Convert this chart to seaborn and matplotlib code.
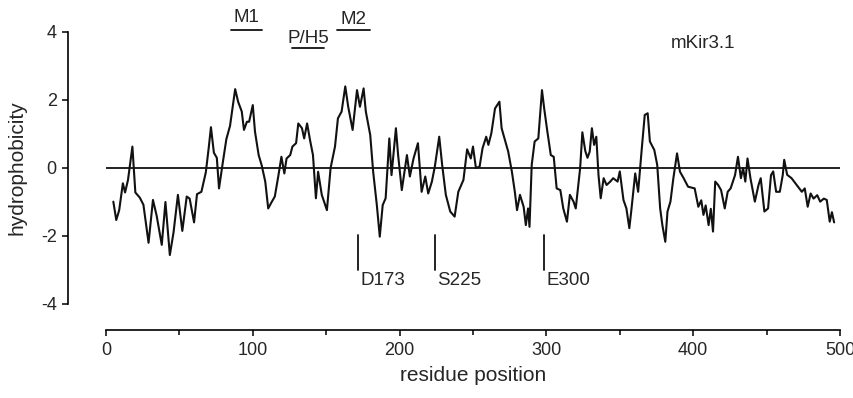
import matplotlib
matplotlib.use("Agg")
import matplotlib.pyplot as plt
import seaborn as sns

# hydrophobicity trace (residue, value)
residue = [5, 7, 9, 11.5, 13, 15, 18, 20, 23, 25.5, 29, 32, 34.5, 38, 40.5, 43.5, 46, 49, 52, 55,
           57, 60, 62, 65, 68, 70, 71.5, 73.5, 75.5, 77, 79.5, 82, 84.5, 88, 90, 92.5, 94, 96, 97.5, 100,
           101.5, 104, 106, 108.5, 110.5, 113, 115, 117.5, 119.5, 121.5, 123, 125.5, 127, 129.5, 131, 133.5, 135, 137, 139, 141,
           143, 144.5, 147, 150.5, 153, 156, 158, 160.5, 163, 165, 168, 171, 173, 175.5, 177, 180, 182, 184.5, 186.5, 188.5,
           190.5, 193, 194.5, 197.5, 199, 201.5, 205, 207, 209.5, 212.5, 215, 217.5, 219.5, 222, 224, 227, 229, 231.5, 234.5, 237.5,
           240, 243.5, 246, 248.5, 250, 252, 254.5, 256.5, 259, 260.5, 262.5, 265, 268, 269.5, 272, 274, 276.5, 278.5, 280, 282,
           284.5, 286, 287.5, 288.5, 290, 292, 294.5, 297, 298.5, 300.5, 303, 305, 307, 309.5, 311.5, 314, 316, 318.5, 320, 323,
           324.5, 326.5, 328, 329.5, 331, 332.5, 334, 335.5, 337, 339, 341, 343.5, 345.5, 348.5, 350, 352.5, 354.5, 356.5, 358, 360.5,
           362.5, 365, 367, 369, 370.5, 373.5, 375.5, 377.5, 379, 381, 382.5, 384.5, 386.5, 389, 391, 393.5, 396.5, 401, 403.5, 405.5,
           407, 408.5, 410.5, 412, 413.5, 415, 417, 419, 421.5, 423.5, 425.5, 428.5, 430.5, 432.5, 434, 435.5, 437, 439, 442, 444.5,
           446, 448.5, 451, 453, 454.5, 456.5, 459, 461, 462, 464, 467, 470.5, 474, 476, 478, 480, 482, 484.5, 486.5, 489,
           491, 493, 494.5, 496]
hydro = [-0.99, -1.53, -1.24, -0.45, -0.72, -0.35, 0.63, -0.72, -0.87, -1.08, -2.2, -0.94, -1.4, -2.26, -1.0, -2.56, -1.9, -0.79, -1.85, -0.84,
         -0.9, -1.6, -0.77, -0.7, -0.13, 0.6, 1.2, 0.45, 0.3, -0.6, 0.14, 0.85, 1.24, 2.32, 1.95, 1.66, 1.12, 1.36, 1.36, 1.85,
         1.07, 0.38, 0.09, -0.4, -1.19, -0.99, -0.84, -0.21, 0.33, -0.16, 0.28, 0.38, 0.63, 0.73, 1.31, 1.17, 0.87, 1.31, 0.82, 0.38,
         -0.89, -0.11, -0.79, -1.24, 0.0, 0.63, 1.46, 1.66, 2.4, 1.8, 1.12, 2.29, 1.8, 2.34, 1.66, 0.97, -0.11, -1.09, -2.02, -1.09,
         -0.89, 0.87, -0.21, 1.17, 0.38, -0.65, 0.38, -0.25, 0.28, 0.73, -0.7, -0.25, -0.75, -0.4, 0.04, 0.92, 0.09, -0.79, -1.28, -1.43,
         -0.7, -0.35, 0.55, 0.28, 0.63, 0.0, 0.04, 0.58, 0.92, 0.68, 1.02, 1.75, 1.95, 1.17, 0.78, 0.48, -0.11, -0.7, -1.24, -0.79,
         -1.14, -1.68, -1.19, -1.73, 0.09, 0.78, 0.87, 2.29, 1.75, 1.12, 0.38, 0.33, -0.6, -0.65, -1.19, -1.58, -0.79, -0.99, -1.19, 0.0,
         1.05, 0.5, 0.3, 0.48, 1.17, 0.68, 0.92, -0.21, -0.89, -0.3, -0.5, -0.4, -0.3, -0.4, -0.1, -0.94, -1.19, -1.77, -1.19, -0.16,
         -0.7, 0.58, 1.56, 1.61, 0.78, 0.53, 0.09, -1.19, -1.68, -2.17, -1.28, -0.99, -0.3, 0.43, -0.11, -0.3, -0.55, -0.6, -1.14, -0.95,
         -1.38, -1.1, -1.68, -1.2, -1.87, -0.4, -0.5, -0.65, -1.19, -0.7, -0.6, -0.21, 0.33, -0.3, 0.0, -0.4, 0.28, -0.3, -0.99, -0.5,
         -0.3, -1.28, -1.19, -0.21, -0.1, -0.7, -0.7, -0.21, 0.24, -0.2, -0.3, -0.5, -0.7, -0.6, -1.14, -0.75, -0.9, -0.8, -0.99, -0.9,
         -0.94, -1.58, -1.3, -1.6]

# segment labels above the trace
seg_names = ["M1", "P/H5", "M2"]
seg_start = [85, 127, 157.5]
seg_end = [106, 148.5, 180]
seg_bar_y = [4.06, 3.54, 4.06]
seg_text_y = [4.42, 3.82, 4.38]

# marked residues below the trace
site_names = ["D173", "S225", "E300"]
site_pos = [172, 224, 298.5]

sns.set_style("ticks")
plt.rcParams["font.family"] = ["Liberation Sans", "DejaVu Sans"]
plt.rcParams["axes.unicode_minus"] = False

fig = plt.figure(figsize=(8.54, 3.98), dpi=100)
ax = fig.add_axes([0.1241, 0.2362, 0.8595, 0.6834])

sns.lineplot(x=residue, y=hydro, estimator=None, sort=False, color="#111111", lw=1.5, ax=ax)
ax.axhline(0, color="#111111", lw=1.3)

ax.set_xlim(0, 500)
ax.set_ylim(-4, 4)
ax.set_xticks(range(0, 501, 100))
ax.set_xticks(range(50, 500, 100), minor=True)
ax.set_yticks([-4, -2, 0, 2, 4])
ax.tick_params(axis="both", which="major", labelsize=13, length=4.5, width=1.1, color="black", pad=4)
ax.tick_params(axis="x", which="minor", length=3.5, width=1.1, color="black")
for s in ax.spines.values():
    s.set_linewidth(1.2)
    s.set_color("black")

ax.set_xlabel("residue position", fontsize=15, labelpad=5)
ax.set_ylabel("hydrophobicity", fontsize=15, labelpad=10)

sns.despine(ax=ax, offset={"left": 27, "bottom": 19}, trim=True)

for name, x0, x1, by, ty in zip(seg_names, seg_start, seg_end, seg_bar_y, seg_text_y):
    ax.plot([x0, x1], [by, by], color="#111111", lw=1.3, clip_on=False)
    ax.text((x0 + x1) / 2, ty, name, ha="center", va="center", fontsize=13.5)

ax.text(407, 3.65, "mKir3.1", ha="center", va="center", fontsize=13.5)

for name, x in zip(site_names, site_pos):
    ax.plot([x, x], [-1.97, -3.0], color="#111111", lw=1.3)
    ax.text(x + 1.5, -3.3, name, ha="left", va="center", fontsize=13.5)

fig.savefig("out.png", dpi=100)
